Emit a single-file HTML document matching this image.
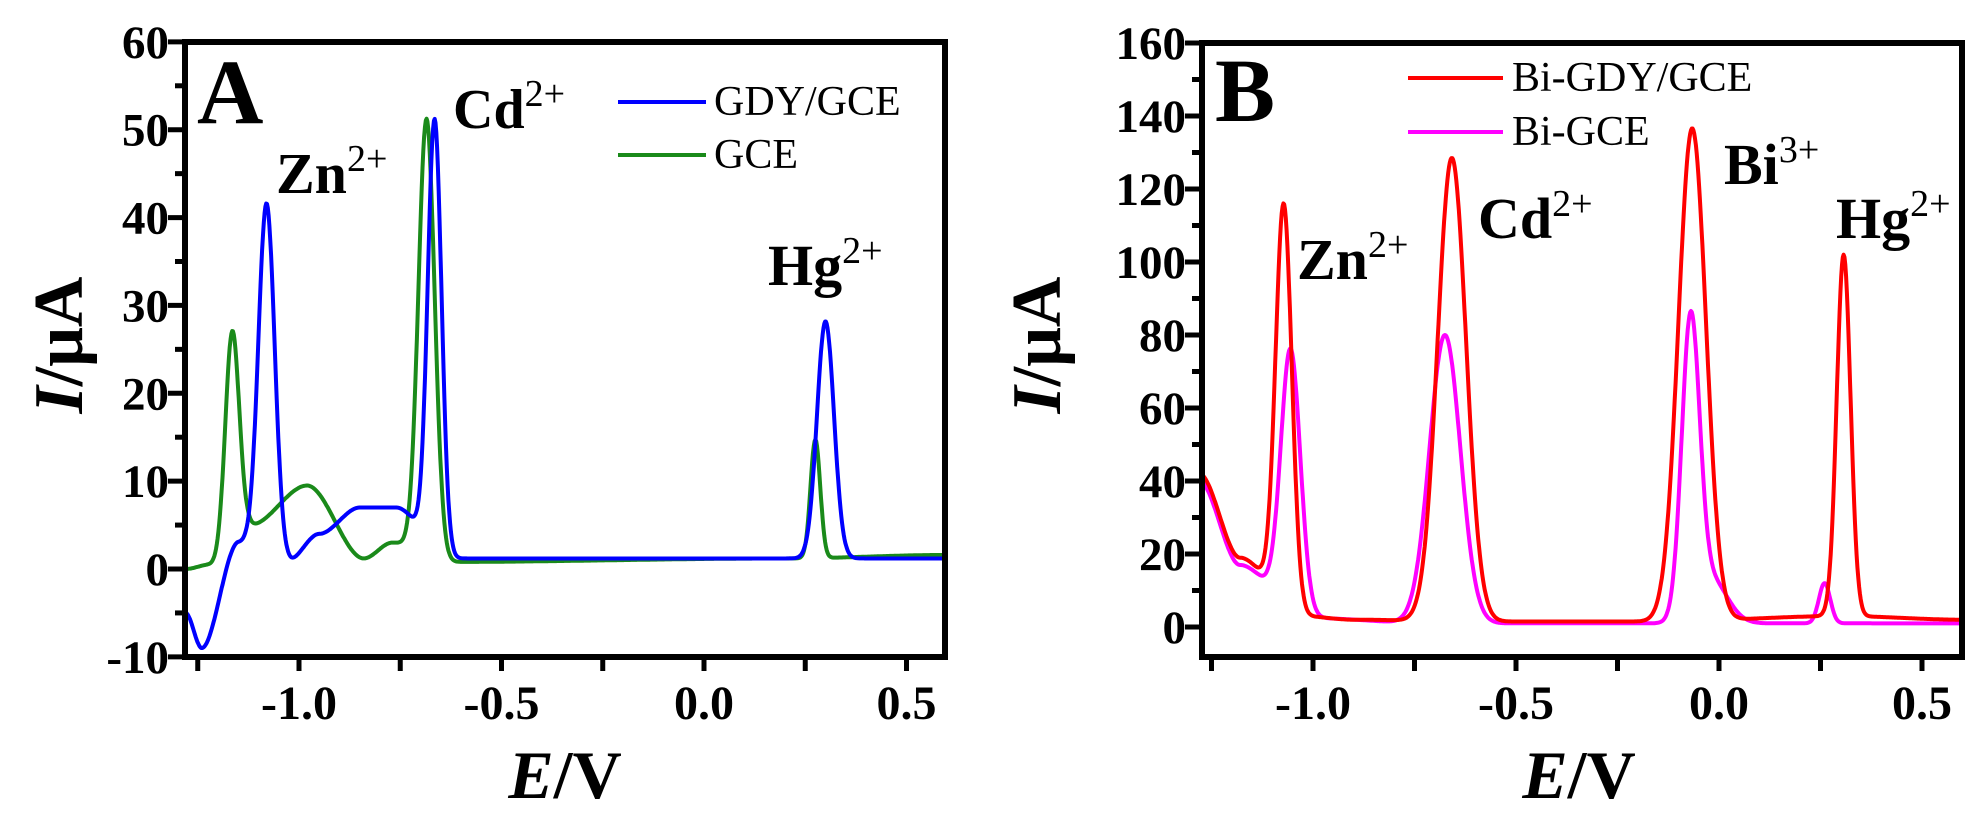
<!DOCTYPE html>
<html><head><meta charset="utf-8"><style>
html,body{margin:0;padding:0;background:#fff;}
svg{display:block;font-family:"Liberation Serif","DejaVu Serif",serif;}
svg text{font-family:"Liberation Serif","DejaVu Serif",serif;font-weight:bold;fill:#000;}
.n{font-weight:normal;}
</style></head><body>
<svg id="s" width="1983" height="824" viewBox="0 0 1983 824" xmlns="http://www.w3.org/2000/svg" font-family="Liberation Serif, DejaVu Serif, serif">
<g id="g"></g>
<text x="197" y="123" font-size="92">A</text>
<text x="276" y="193" font-size="58">Zn<tspan font-size="38" dy="-22" class="n">2+</tspan></text>
<text x="453" y="128" font-size="56">Cd<tspan font-size="38" dy="-22" class="n">2+</tspan></text>
<text x="768" y="285" font-size="58">Hg<tspan font-size="38" dy="-22" class="n">2+</tspan></text>
<line x1="618" y1="102" x2="706" y2="102" stroke="#0000ff" stroke-width="4"/>
<line x1="618" y1="155" x2="706" y2="155" stroke="#1a8a1a" stroke-width="4"/>
<text x="714" y="115" font-size="42" class="n">GDY/GCE</text>
<text x="714" y="168" font-size="42" class="n">GCE</text>
<text transform="translate(82,345) rotate(-90)" font-size="70" text-anchor="middle"><tspan font-style="italic">I</tspan>/μA</text>
<text x="565" y="798" font-size="68" text-anchor="middle"><tspan font-style="italic">E</tspan>/V</text>
<text x="1215" y="121" font-size="90">B</text>
<text x="1297" y="279" font-size="58">Zn<tspan font-size="38" dy="-22" class="n">2+</tspan></text>
<text x="1478" y="238" font-size="58">Cd<tspan font-size="38" dy="-22" class="n">2+</tspan></text>
<text x="1724" y="184" font-size="58">Bi<tspan font-size="38" dy="-22" class="n">3+</tspan></text>
<text x="1836" y="238" font-size="58">Hg<tspan font-size="38" dy="-22" class="n">2+</tspan></text>
<line x1="1408" y1="78" x2="1503" y2="78" stroke="#ff0000" stroke-width="4"/>
<line x1="1408" y1="132" x2="1503" y2="132" stroke="#ff00ff" stroke-width="4"/>
<text x="1512" y="91" font-size="42" class="n">Bi-GDY/GCE</text>
<text x="1512" y="145" font-size="42" class="n">Bi-GCE</text>
<text transform="translate(1060,345) rotate(-90)" font-size="70" text-anchor="middle"><tspan font-style="italic">I</tspan>/μA</text>
<text x="1579" y="798" font-size="68" text-anchor="middle"><tspan font-style="italic">E</tspan>/V</text>
</svg>
<script>
var NS="http://www.w3.org/2000/svg",g=document.getElementById("g");
function el(t,a,txt){var e=document.createElementNS(NS,t);for(var k in a)e.setAttribute(k,a[k]);if(txt!==undefined)e.textContent=txt;g.appendChild(e);return e;}
function interp(pts,x){if(x<=pts[0][0])return pts[0][1];for(var i=1;i<pts.length;i++){if(x<=pts[i][0]){var a=pts[i-1],b=pts[i];var t=(x-a[0])/(b[0]-a[0]);t=t*t*(3-2*t);return a[1]+(b[1]-a[1])*t;}}return pts[pts.length-1][1];}
function curve(base,peaks,x0,x1){var out=[];for(var x=x0;x<=x1+1e-9;x+=0.002){var y=interp(base,x);for(var p of peaks)y+=p[0]*Math.exp(-Math.pow((x-p[1])/p[2],2)/2);out.push([x,y]);}return out;}
function panel(P){
 var X=function(v){return P.xz+v*P.xs;},Y=function(v){return P.yz-v*P.ys;};
 for(var s of P.series){var d="";var pts=curve(s.base,s.peaks,P.xmin,P.xmax);pts.forEach(function(p,i){d+=(i?"L":"M")+X(p[0]).toFixed(1)+","+Y(p[1]).toFixed(1);});el("path",{d:d,fill:"none",stroke:s.c,"stroke-width":4,"stroke-linejoin":"round"});}
 el("rect",{x:P.l,y:P.t,width:P.r-P.l,height:P.b-P.t,fill:"none",stroke:"#000","stroke-width":6});
 for(var v=P.ymin;v<=P.ymax+1e-9;v+=P.ystep/2){var y=Y(v);var maj=Math.abs(Math.round(v/P.ystep)*P.ystep-v)<1e-6;
  el("line",{x1:P.l-(maj?17:10),y1:y,x2:P.l,y2:y,stroke:"#000","stroke-width":5});
  if(maj)el("text",{x:P.l-16,y:y+16,"font-size":47,"text-anchor":"end","font-family":"Liberation Serif, serif","font-weight":"bold"},String(Math.round(v)));}
 for(var v=-1.25;v<=0.5+1e-9;v+=0.25){var x=X(v);el("line",{x1:x,y1:P.b,x2:x,y2:P.b+14,stroke:"#000","stroke-width":5});
  if(Math.abs(v*2-Math.round(v*2))<1e-6)el("text",{x:x,y:P.b+62,"font-size":48,"text-anchor":"middle","font-family":"Liberation Serif, serif","font-weight":"bold"},v.toFixed(1));}
}
panel({l:185,r:945,t:42,b:657,xz:704,xs:405,yz:569,ys:615/70,xmin:-1.281,xmax:0.595,ymin:-10,ymax:60,ystep:10,
 series:[
 {c:"#1a8a1a",base:[[-1.28,0],[-1.22,0.5],[-1.12,5],[-0.98,9.5],[-0.84,1.2],[-0.77,3],[-0.65,0.8],[0.2,1.2],[0.6,1.6]],peaks:[[24,-1.165,0.017],[50,-0.685,0.02],[13.5,0.275,0.012]]},
 {c:"#0000ff",base:[[-1.28,-5],[-1.24,-9],[-1.15,3],[-1.03,0.8],[-0.95,4],[-0.85,7],[-0.76,7],[-0.63,1.2],[0.6,1.2]],peaks:[[40,-1.08,0.02],[49,-0.665,0.017],[27,0.30,0.021]]}
 ]});
panel({l:1202,r:1962,t:43,b:657,xz:1719,xs:406,yz:627,ys:584/160,xmin:-1.273,xmax:0.598,ymin:0,ymax:160,ystep:20,
 series:[
 {c:"#ff00ff",base:[[-1.28,40],[-1.18,17],[-1.02,2.5],[-0.7,1],[0.6,1]],peaks:[[72,-1.055,0.024],[79,-0.675,0.038],[80,-0.07,0.022],[12,-0.02,0.04],[11,0.26,0.014]]},
 {c:"#ff0000",base:[[-1.28,42],[-1.18,19],[-1.03,3],[-0.9,2],[-0.62,1.5],[-0.15,1.5],[0.3,3],[0.6,2]],peaks:[[110,-1.072,0.02],[127,-0.658,0.035],[135,-0.066,0.034],[99,0.307,0.017]]}
 ]});
</script>
</body></html>
